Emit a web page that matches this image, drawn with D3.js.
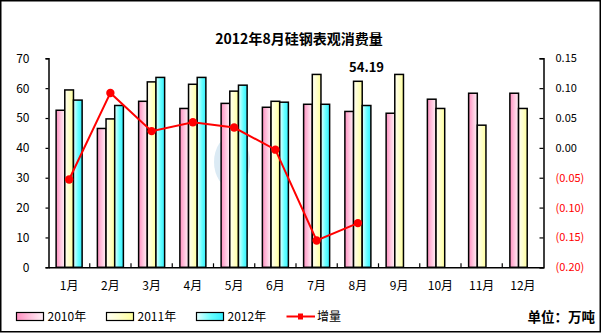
<!DOCTYPE html>
<html>
<head>
<meta charset="utf-8">
<script src="https://cdn.jsdelivr.net/npm/d3@7/dist/d3.min.js"></script>
<style>
  html, body { margin: 0; padding: 0; background: #fff; }
  svg { display: block; }
  text { font-family: "Noto Sans CJK SC", "DejaVu Sans", sans-serif; }
</style>
</head>
<body>
<svg id="chart" width="603" height="333"></svg>
<script>
// Monthly apparent consumption of silicon steel (万吨) and 2012 year-on-year change
const months = ["1月", "2月", "3月", "4月", "5月", "6月", "7月", "8月", "9月", "10月", "11月", "12月"];
const series = ["2010年", "2011年", "2012年"];
const v2010 = [52.6, 46.5, 55.6, 53.2, 54.9, 53.6, 54.6, 52.2, 51.6, 56.3, 58.3, 58.3];
const v2011 = [59.4, 49.7, 62.1, 61.3, 59.0, 55.6, 64.6, 62.3, 64.6, 53.2, 47.6, 53.2];
const v2012 = [56.0, 54.2, 63.6, 63.6, 61.0, 55.3, 54.6, 54.19, null, null, null, null];
const growth = [-0.053, 0.092, 0.028, 0.043, 0.034, -0.003, -0.155, -0.126];
const leftTicks = [0, 10, 20, 30, 40, 50, 60, 70];
const rightTicks = [-0.20, -0.15, -0.10, -0.05, 0.00, 0.05, 0.10, 0.15];
const titleText = "2012年8月硅钢表观消费量";
const unitText = "单位：万吨";
const lineName = "增量";

const svg = d3.select("#chart");
const W = 603, H = 333;
const plot = { left: 48.5, right: 543.5, top: 58.3, bottom: 267.3 };

// Frame
svg.append("rect").attr("x", 0.75).attr("y", 0.75).attr("width", 599.5).attr("height", 331)
  .attr("fill", "#fff").attr("stroke", "#000").attr("stroke-width", 1.5);

// Gradients for the bar fills
const defs = svg.append("defs");
const grads = [
  ["g2010", [["0%", "#ff8fc0"], ["55%", "#ffc8e0"], ["100%", "#fff0f6"]]],
  ["g2011", [["0%", "#fffff4"], ["50%", "#ffffcc"], ["100%", "#ffff9a"]]],
  ["g2012", [["0%", "#e6ffff"], ["55%", "#66ffff"], ["100%", "#33eeff"]]]
];
grads.forEach(([id, stops]) => {
  const g = defs.append("linearGradient").attr("id", id)
    .attr("x1", "0%").attr("x2", "100%").attr("y1", "0%").attr("y2", "0%");
  stops.forEach(([o, c]) => g.append("stop").attr("offset", o).attr("stop-color", c));
});
const fills = ["url(#g2010)", "url(#g2011)", "url(#g2012)"];
const swatchFills = fills;

// Scales
const x = d3.scaleBand().domain(months).range([plot.left, plot.right]).paddingInner(0).paddingOuter(0);
const yL = d3.scaleLinear().domain([0, 70]).range([plot.bottom, plot.top]);
const yR = d3.scaleLinear().domain([-0.2, 0.15]).range([plot.bottom, plot.top]);
const inner = d3.scaleBand().domain(series).range([-13, 13]).paddingInner(0);

// Title
svg.append("text").attr("x", 299).attr("y", 44).attr("text-anchor", "middle")
  .attr("font-size", 14).attr("font-weight", "bold").attr("fill", "#000").text(titleText);

// Faint watermark emblem behind the data
const wm = svg.append("g").attr("opacity", 0.18);
wm.append("ellipse").attr("cx", 232).attr("cy", 162).attr("rx", 18).attr("ry", 26).attr("fill", "#3a8cc0");

// Bars
const barData = [];
months.forEach((m, i) => {
  [v2010, v2011, v2012].forEach((arr, s) => {
    if (arr[i] != null) barData.push({ m, s, v: arr[i] });
  });
});
svg.append("g").selectAll("rect").data(barData).join("rect")
  .attr("x", d => x(d.m) + x.bandwidth() / 2 + inner(series[d.s]))
  .attr("y", d => yL(d.v))
  .attr("width", inner.bandwidth())
  .attr("height", d => yL(0) - yL(d.v))
  .attr("fill", d => fills[d.s])
  .attr("stroke", "#000").attr("stroke-width", 1.5);

// Left axis
const axL = svg.append("g").attr("transform", `translate(${plot.left},0)`)
  .call(d3.axisLeft(yL).tickValues(leftTicks).tickSize(3).tickPadding(16).tickFormat(d3.format("d")));
axL.select(".domain").attr("stroke", "#000").attr("stroke-width", 1.5);
axL.selectAll(".tick line").attr("stroke", "#000").attr("stroke-width", 1.2);
axL.selectAll(".tick text").attr("font-family", "Liberation Sans, Arial, sans-serif")
  .attr("font-size", 12).attr("fill", "#000");

// Right axis (ticks point inward, labels to the right)
const fmtR = d => d < 0 ? `(${d3.format(".2f")(-d)})` : d3.format(".2f")(d);
const axR = svg.append("g").attr("transform", `translate(${plot.right},0)`)
  .call(d3.axisRight(yR).tickValues(rightTicks).tickSize(-4).tickPadding(12).tickFormat(fmtR));
axR.select(".domain").attr("stroke", "#000").attr("stroke-width", 1.5);
axR.selectAll(".tick line").attr("stroke", "#000").attr("stroke-width", 1.2);
axR.selectAll(".tick text").attr("font-family", "DejaVu Sans Mono, monospace")
  .attr("font-size", 11).attr("fill", d => d < 0 ? "#ff0000" : "#000");

// Bottom axis with ticks at category boundaries, pointing up
const axB = svg.append("g").attr("transform", `translate(0,${plot.bottom})`)
  .call(d3.axisBottom(x).tickSize(0).tickPadding(14));
axB.select(".domain").attr("stroke", "#000").attr("stroke-width", 1.5);
axB.selectAll(".tick text").attr("font-size", 12).attr("fill", "#000");
svg.append("g").selectAll("line").data(months.slice(1)).join("line")
  .attr("x1", d => x(d)).attr("x2", d => x(d))
  .attr("y1", plot.bottom).attr("y2", plot.bottom - 4)
  .attr("stroke", "#000").attr("stroke-width", 1.2);

// Growth line
const pts = growth.map((g, i) => ({ m: months[i], g }));
const line = d3.line().x(d => x(d.m) + x.bandwidth() / 2).y(d => yR(d.g));
svg.append("path").datum(pts).attr("d", line)
  .attr("fill", "none").attr("stroke", "#ff0000").attr("stroke-width", 2);
svg.append("g").selectAll("circle").data(pts).join("circle")
  .attr("cx", d => x(d.m) + x.bandwidth() / 2).attr("cy", d => yR(d.g)).attr("r", 4.2)
  .attr("fill", "#ff0000");

// Value label on the latest 2012 bar
const lastIdx = 7;
svg.append("text")
  .attr("x", x(months[lastIdx]) + x.bandwidth() / 2 + inner(series[2]) + inner.bandwidth() / 2)
  .attr("y", yL(v2012[lastIdx]) - 34)
  .attr("text-anchor", "middle").attr("font-family", "DejaVu Sans Mono, monospace")
  .attr("font-size", 13).attr("font-weight", "bold").attr("fill", "#000")
  .text(d3.format(".2f")(v2012[lastIdx]));

// Legend
const legY = 316.5;
const legX = [16.5, 106.5, 196.5];
const leg = svg.append("g");
series.forEach((s, i) => {
  leg.append("rect").attr("x", legX[i]).attr("y", legY - 4).attr("width", 27).attr("height", 8)
    .attr("fill", swatchFills[i]).attr("stroke", "#000").attr("stroke-width", 1.2);
  leg.append("text").attr("x", legX[i] + 31).attr("y", legY + 4.5)
    .attr("font-size", 12).attr("fill", "#000").text(s);
});
leg.append("line").attr("x1", 286.5).attr("x2", 315).attr("y1", legY).attr("y2", legY)
  .attr("stroke", "#ff0000").attr("stroke-width", 2);
leg.append("rect").attr("x", 298).attr("y", legY - 3).attr("width", 5).attr("height", 6).attr("fill", "#ff0000");
leg.append("text").attr("x", 317).attr("y", legY + 4.5)
  .attr("font-size", 12).attr("fill", "#000").text(lineName);

// Unit note
svg.append("text").attr("x", 595).attr("y", legY + 5).attr("text-anchor", "end")
  .attr("font-size", 13.5).attr("font-weight", "bold").attr("fill", "#000").text(unitText);
</script>
</body>
</html>
